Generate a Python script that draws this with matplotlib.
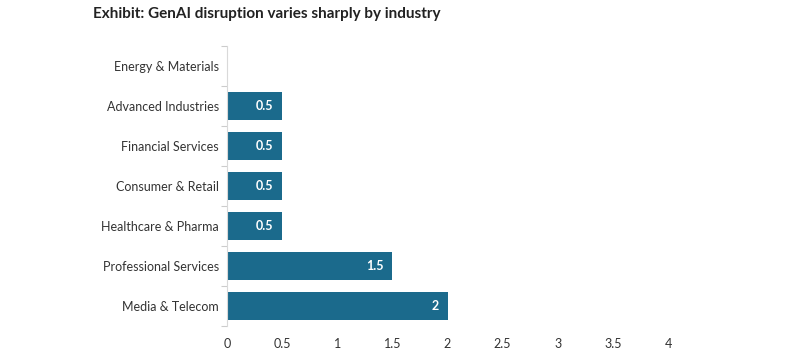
import matplotlib
matplotlib.use("Agg")
import matplotlib.pyplot as plt

categories = ["Energy & Materials", "Advanced Industries", "Financial Services",
              "Consumer & Retail", "Healthcare & Pharma", "Professional Services",
              "Media & Telecom"]
values = [0, 0.5, 0.5, 0.5, 0.5, 1.5, 2]
xticks = [0, 0.5, 1, 1.5, 2, 2.5, 3, 3.5, 4]
xtick_labels = ["0", "0.5", "1", "1.5", "2", "2.5", "3", "3.5", "4"]
title = "Exhibit: GenAI disruption varies sharply by industry"

plt.rcParams['font.family'] = ['Lato', 'DejaVu Sans']

fig = plt.figure(figsize=(7.91, 3.62), dpi=100)
ax = fig.add_axes([227/791, 1 - 326/362, (668 - 227)/791, 280/362])

ypos = list(range(len(categories)))
bar_color = "#1b6a8c"
ax.barh(ypos, values, height=0.68, color=bar_color)
ax.set_ylim(len(categories) - 0.5, -0.5)
ax.set_xlim(0, 4)

for y, v in zip(ypos, values):
    if v > 0:
        ax.text(v - 0.08, y, f"{v:g}", color="white", fontsize=9, fontweight="bold",
                ha="right", va="center")

ax.set_yticks(ypos)
ax.set_yticklabels(categories, fontsize=9, color="#333333")
ax.set_yticks([i - 0.5 for i in range(len(categories) + 1)], minor=True)
ax.tick_params(axis="y", which="major", length=0, pad=6)
ax.tick_params(axis="y", which="minor", length=4, color="#cccccc", width=0.8)

ax.set_xticks(xticks)
ax.set_xticklabels(xtick_labels, fontsize=9, color="#333333")
ax.tick_params(axis="x", length=0, pad=9)

for s in ["top", "right", "bottom"]:
    ax.spines[s].set_visible(False)
ax.spines["left"].set_color("#d9d9d9")
ax.spines["left"].set_linewidth(0.8)

fig.text(93/791, 1 - 14/362, title, fontsize=11, fontweight="bold", color="#222222",
         ha="left", va="center")

fig.savefig("out.png", dpi=100)
